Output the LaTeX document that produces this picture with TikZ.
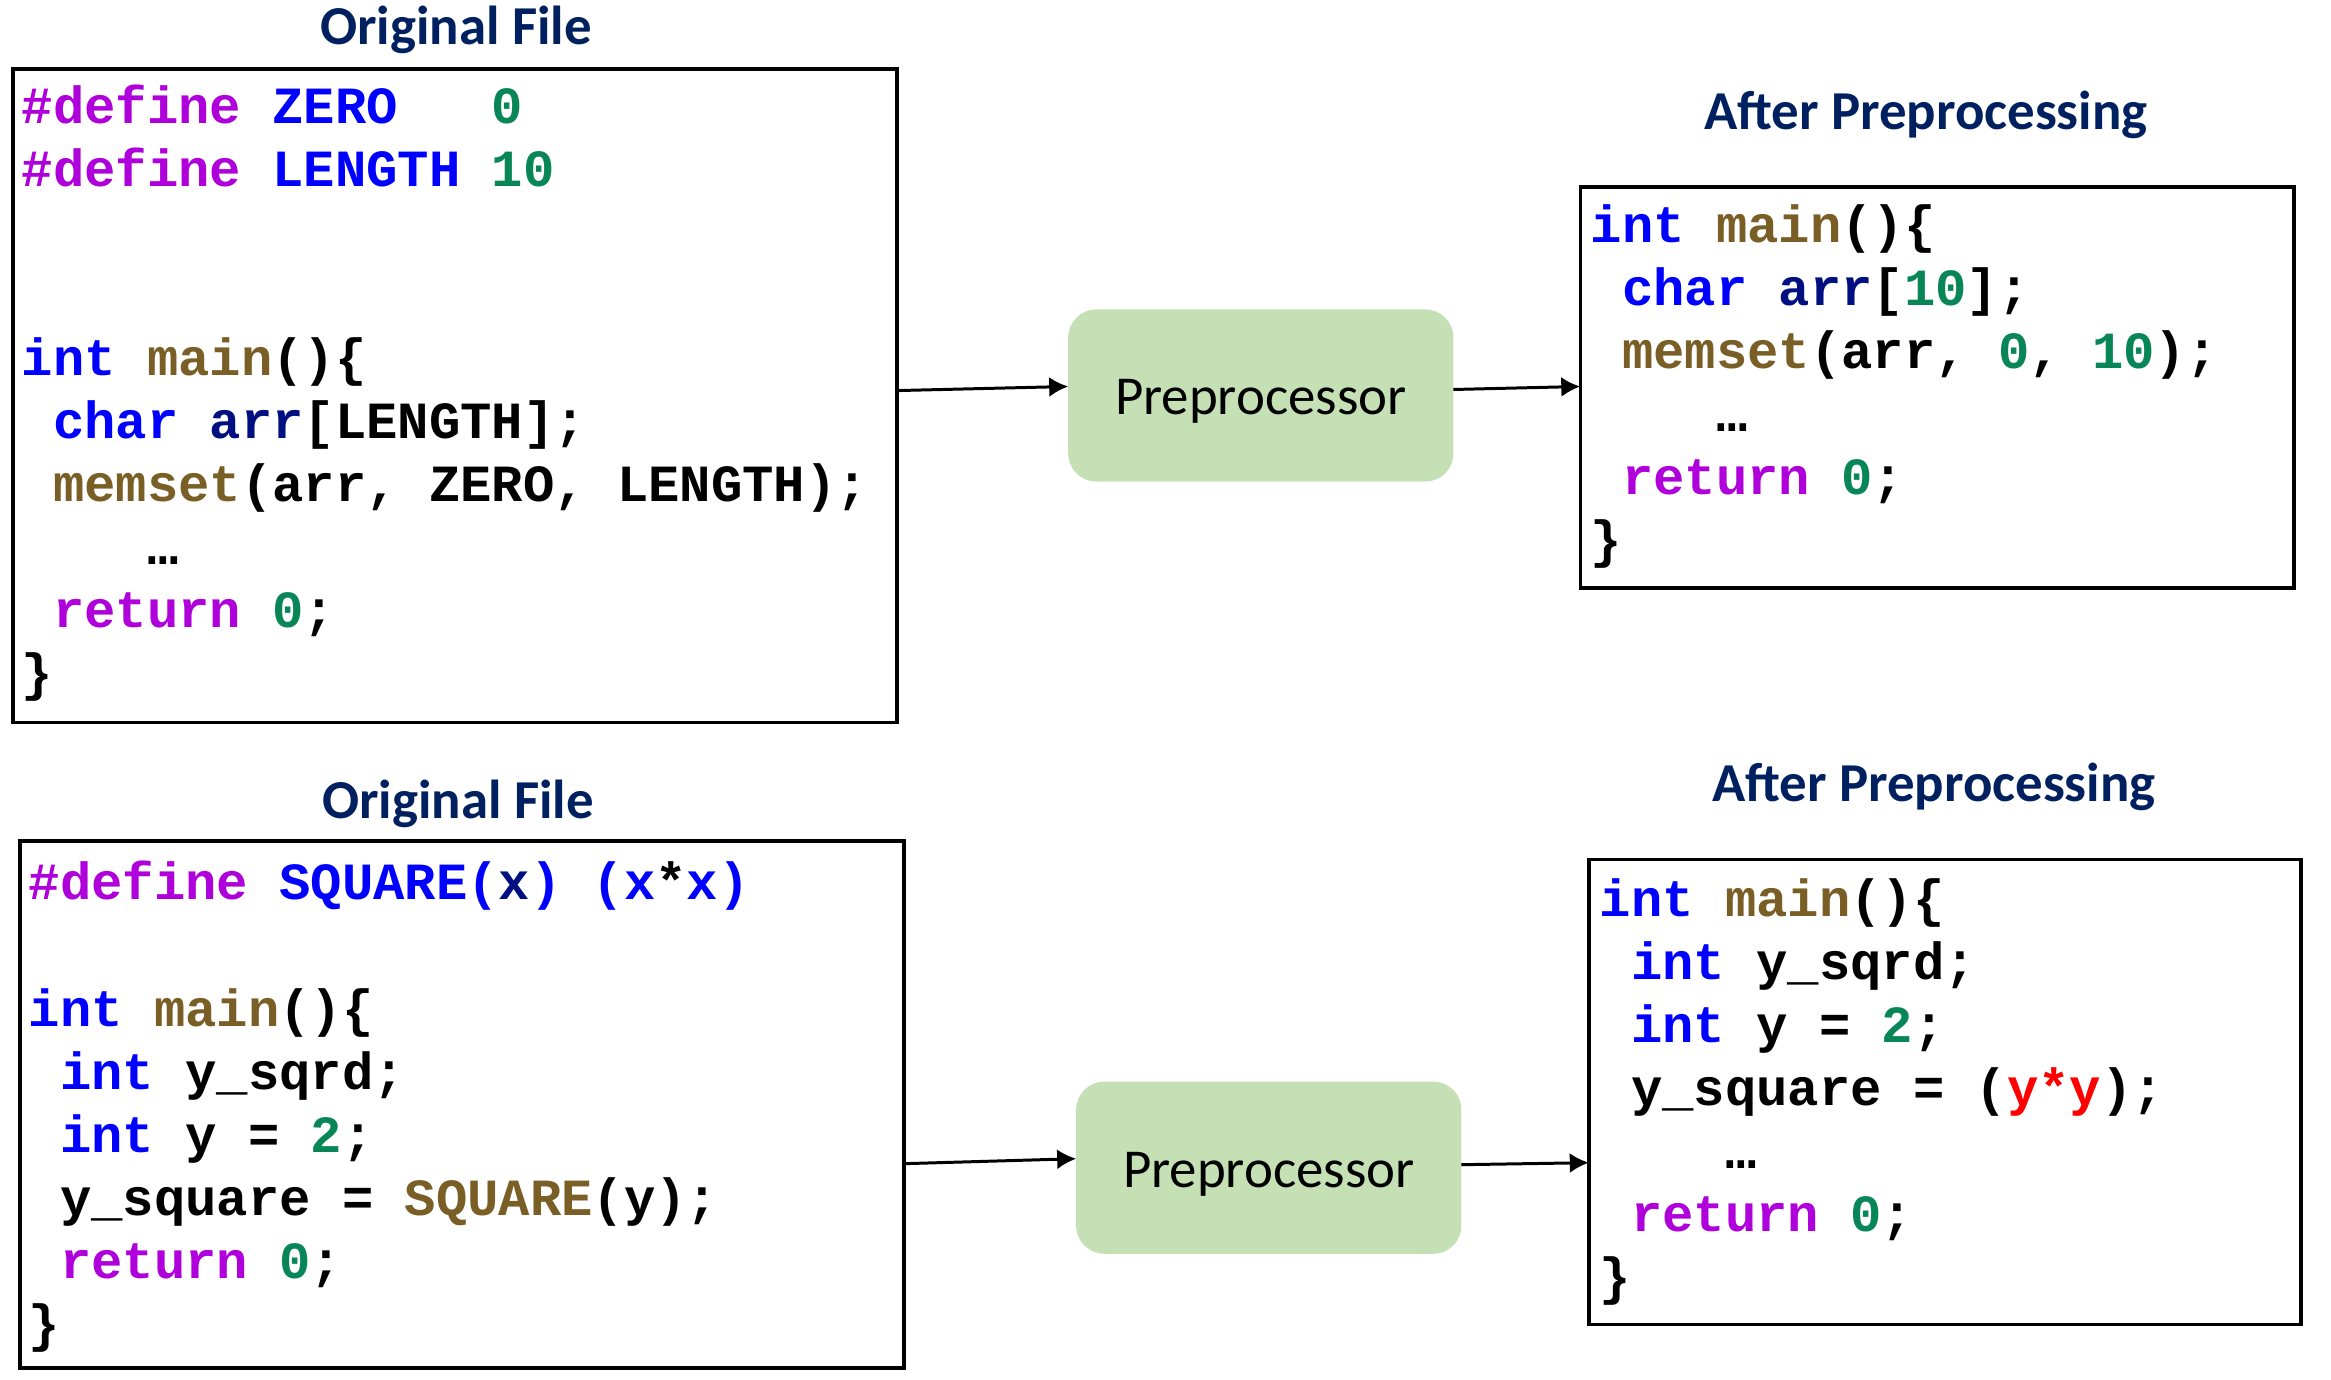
\documentclass[tikz,border=0pt]{standalone}
\usepackage{fontspec}
\usepackage{tikz}
\usetikzlibrary{calc}
\usetikzlibrary{arrows.meta}
\newfontfamily\codefont{Liberation Mono}
\newfontfamily\calfont{Carlito}
\definecolor{ctlpurple}{HTML}{AF00DB}
\definecolor{typeblue}{HTML}{0000FF}
\definecolor{fnbrown}{HTML}{795E26}
\definecolor{numgreen}{HTML}{098658}
\definecolor{varnavy}{HTML}{001080}
\definecolor{titlenavy}{HTML}{002060}
\definecolor{boxgreen}{HTML}{C5E0B4}
\newcommand{\cctl}[1]{\textcolor{ctlpurple}{#1}}
\newcommand{\ctype}[1]{\textcolor{typeblue}{#1}}
\newcommand{\cfn}[1]{\textcolor{fnbrown}{#1}}
\newcommand{\cnum}[1]{\textcolor{numgreen}{#1}}
\newcommand{\cvar}[1]{\textcolor{varnavy}{#1}}
\newcommand{\cred}[1]{\textcolor{red}{#1}}

\begin{document}
\begin{tikzpicture}[x=0.01cm, y=-0.01cm,
  codebox/.style={draw, line width=1pt, inner sep=0, outer sep=0},
  prebox/.style={fill=boxgreen, rounded corners=0.28cm, inner sep=0, outer sep=0,
    minimum width=3.85cm, minimum height=1.72cm, text height=0.5cm, text depth=0.11cm,
    font=\calfont\fontsize{15.6}{18}\selectfont},
  title/.style={anchor=base, inner sep=0, text=titlenavy,
    font=\calfont\bfseries\fontsize{15.6}{18}\selectfont},
  codeline/.style={anchor=base west, inner sep=0,
    font=\codefont\bfseries\fontsize{14.85}{18}\selectfont\frenchspacing},
  flow/.style={-{Latex[length=0.19cm, width=0.2cm]}, line width=0.85pt}]

  \useasboundingbox (0,0) rectangle (2331,1380);

  % Top: original file
  \node[title] (otitle1) at (456,45) {Original File};
  \node[codebox, minimum width=8.83cm, minimum height=6.53cm] (orig1) at (455,395.6) {};
  \foreach \k/\txt in {
      0/{\cctl{\#define} \ctype{ZERO}~~~\cnum{0}},
      1/{\cctl{\#define} \ctype{LENGTH} \cnum{10}},
      4/{\ctype{int} \cfn{main}()\{},
      5/{~\ctype{char} \cvar{arr}[LENGTH];},
      6/{~\cfn{memset}(arr, ZERO, LENGTH);},
      7/{~~~~…},
      8/{~\cctl{return} \cnum{0};},
      9/{\}}} {
    \node[codeline] (oa\k) at (21,124+63*\k) {\txt};
  }

  % Top: preprocessor
  \node[prebox] (pre1) at (1260.8,395.5) {Preprocessor};

  % Top: after preprocessing
  \node[title] (atitle1) at (1926,130) {After Preprocessing};
  \node[codebox, minimum width=7.13cm, minimum height=4.01cm] (after1) at (1937,387.5) {};
  \foreach \k/\txt in {
      0/{\ctype{int} \cfn{main}()\{},
      1/{~\ctype{char} \cvar{arr}[\cnum{10}];},
      2/{~\cfn{memset}(arr, \cnum{0}, \cnum{10});},
      3/{~~~~…},
      4/{~\cctl{return} \cnum{0};},
      5/{\}}} {
    \node[codeline] (aa\k) at (1590,243+63*\k) {\txt};
  }

  \draw[flow] ($(orig1.east)+(0,-5)$) -- ($(pre1.west)+(0,-9)$);
  \draw[flow] ($(pre1.east)+(0,-6)$) -- ($(after1.west)+(0,-1)$);

  % Bottom: original file
  \node[title] (otitle2) at (458,819) {Original File};
  \node[codebox, minimum width=8.83cm, minimum height=5.27cm] (orig2) at (462,1104.5) {};
  \foreach \k/\txt in {
      0/{\cctl{\#define} \ctype{SQUARE(}\cvar{x}\ctype{)} \ctype{(x}*\ctype{x)}},
      2/{\ctype{int} \cfn{main}()\{},
      3/{~\ctype{int} y\_sqrd;},
      4/{~\ctype{int} y = \cnum{2};},
      5/{~y\_square = \cfn{SQUARE}(y);},
      6/{~\cctl{return} \cnum{0};},
      7/{\}}} {
    \node[codeline] (ob\k) at (28,900+63*\k) {\txt};
  }

  % Bottom: preprocessor
  \node[prebox] (pre2) at (1268.8,1167.7) {Preprocessor};

  % Bottom: after preprocessing
  \node[title] (atitle2) at (1934,802) {After Preprocessing};
  \node[codebox, minimum width=7.12cm, minimum height=4.65cm] (after2) at (1945,1092) {};
  \foreach \k/\txt in {
      0/{\ctype{int} \cfn{main}()\{},
      1/{~\ctype{int} y\_sqrd;},
      2/{~\ctype{int} y = \cnum{2};},
      3/{~y\_square = (\cred{y*y});},
      4/{~~~~…},
      5/{~\cctl{return} \cnum{0};},
      6/{\}}} {
    \node[codeline] (ab\k) at (1599,916+63*\k) {\txt};
  }

  \draw[flow] ($(orig2.east |- pre2.west)+(0,-4)$) -- ($(pre2.west)+(0,-9)$);
  \draw[flow] ($(pre2.east)+(0,-3)$) -- ($(after2.west |- pre2.east)+(0,-5)$);

\end{tikzpicture}
\end{document}
